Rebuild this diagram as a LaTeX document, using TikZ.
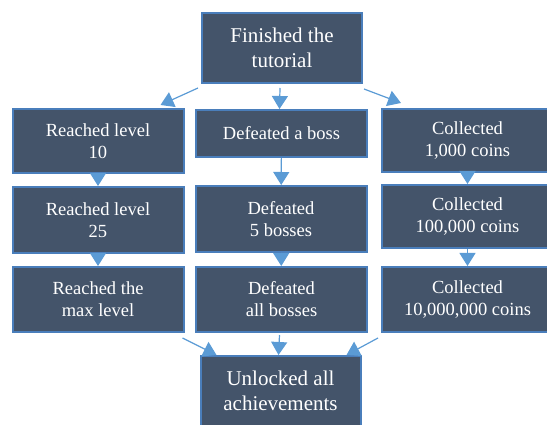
\documentclass[tikz,border=0pt]{standalone}
\usepackage{fontspec}
\setmainfont{Liberation Serif}
\usetikzlibrary{arrows.meta}
\usetikzlibrary{positioning}
\usetikzlibrary{calc}

\definecolor{slate}{HTML}{44546A}
\definecolor{rim}{HTML}{4A7EBB}
\definecolor{arrowblue}{HTML}{5B9BD5}

\begin{document}
\begin{tikzpicture}[x=1pt,y=-1pt,-{Triangle[width=16pt,length=13pt]},
		line width=1.2pt,arrowblue]
		\tikzstyle{goal}=[draw=rim,fill=slate,line width=2pt,text=white,align=center,
		minimum width=171pt,inner sep=2pt,font=\fontsize{18.5}{22}\selectfont]
		\tikzstyle{big}=[goal,minimum width=160pt,minimum height=70pt,
		font=\fontsize{21}{25}\selectfont]
		
		\useasboundingbox (0,0) rectangle (547,425);
		
		\node[big]                      (tutorial)  at (282,48)    {Finished the\\tutorial};
		
		\node[goal,minimum height=64pt] (level10)   at (98,141)    {Reached level\\10};
		\node[goal,minimum height=66pt] (level25)   at (98,220)    {Reached level\\25};
		\node[goal,minimum height=65pt] (levelmax)  at (98,299.5)  {Reached the\\max level};
		
		\node[goal,minimum height=47pt] (boss)      at (281.5,133.5) {Defeated a boss};
		\node[goal,minimum height=66pt] (boss5)     at (281,219)   {Defeated\\5 bosses};
		\node[goal,minimum height=65pt] (bossall)   at (281.5,299.5) {Defeated\\all bosses};
		
		\node[goal,minimum height=63pt] (coins3)    at (467.5,140.5) {Collected\\1,000 coins};
		\node[goal,minimum height=63pt] (coins5)    at (467.5,216.5) {Collected\\100,000 coins};
		\node[goal,minimum height=65pt] (coins7)    at (467.5,299.5) {Collected\\10,000,000 coins};
		
		\node[big]                      (unlocked)  at (280.5,391) {Unlocked all\\achievements};
		
		% from the tutorial
		\draw ([xshift=-3pt,yshift=-4pt]tutorial.south west) -- ([xshift=-24pt,yshift=3pt]level10.north east);
		\draw ([xshift=-2pt,yshift=-4pt]tutorial.south) -- ([xshift=-2pt]boss.north);
		\draw ([xshift=1pt,yshift=-5pt]tutorial.south east) -- ([xshift=20pt,yshift=5pt]coins3.north west);
		
		\path (level10)  edge (level25)
		(level25)  edge (levelmax)
		(boss)     edge (boss5)
		(boss5)    edge (bossall)
		(coins3)   edge (coins5)
		(coins5)   edge (coins7);
		
		% into the last one
		\draw ([xshift=-2pt,yshift=-5pt]levelmax.south east) -- ([xshift=17pt]unlocked.north west);
		\draw ([xshift=-2pt,yshift=-2pt]bossall.south) -- ([xshift=-2pt]unlocked.north);
		\draw ([xshift=-3pt,yshift=-5pt]coins7.south west) -- ([xshift=-15pt]unlocked.north east);
\end{tikzpicture}
\end{document}
